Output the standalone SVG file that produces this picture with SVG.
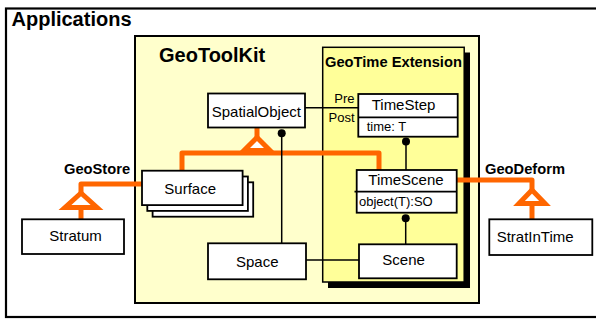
<svg xmlns="http://www.w3.org/2000/svg" width="596" height="320" viewBox="0 0 596 320">
<style>
.box{fill:#fff;stroke:#000;stroke-width:1.8}
.lbl{font-family:"Liberation Sans",Arial,sans-serif;font-size:15px;fill:#000}
.sm{font-family:"Liberation Sans",Arial,sans-serif;font-size:13px;fill:#000}
.ttl{font-family:"Liberation Sans",Arial,sans-serif;font-weight:bold;fill:#000}
.gen{fill:none;stroke:#ff6600;stroke-width:5;stroke-linejoin:round}
.tri{fill:#fff;stroke:#ff6600;stroke-width:5;stroke-linejoin:miter}
.assoc{fill:none;stroke:#000;stroke-width:1.5}
.dot{fill:#000}
</style>
<rect width="596" height="320" fill="#fff"/>
<g id="applications">
<rect x="6" y="8.5" width="600" height="308.5" fill="#fff" stroke="#000" stroke-width="2.2"/>
<text class="ttl" x="11.5" y="26" font-size="20">Applications</text>
</g>
<g id="geotoolkit">
<rect x="135" y="36" width="344" height="267" fill="#ffffcc" stroke="#000" stroke-width="2"/>
<text class="ttl" x="159" y="62" font-size="20">GeoToolKit</text>
</g>
<g id="geotime-extension">
<rect x="328" y="52.5" width="142" height="235.5" fill="#000"/>
<rect x="322.7" y="47.3" width="141.5" height="234.7" fill="#ffff99" stroke="#000" stroke-width="1.5"/>
<text class="ttl" x="325" y="66.7" font-size="14.7">GeoTime Extension</text>
</g>
<g id="connectors">
<path class="gen" d="M182,170 V153 H379 V170"/>
<path class="gen" d="M257,127.5 V138"/>
<polygon class="tri" points="257,137.5 244,150.5 270,150.5"/>
<path class="gen" d="M142,184 H81 V193"/>
<path class="gen" d="M81,207.5 V219.5"/>
<polygon class="tri" points="81,193 65,207.5 97,207.5"/>
<path class="gen" d="M457,180 H532 V190"/>
<path class="gen" d="M532,203.5 V219.5"/>
<polygon class="tri" points="532,190 519,203.5 545,203.5"/>
<path class="assoc" d="M305,107.7 H358.3"/>
<path class="assoc" d="M281.7,133.3 V243.3"/>
<circle class="dot" cx="281.7" cy="133.3" r="4"/>
<path class="assoc" d="M306,260 H359"/>
<path class="assoc" d="M406,141.5 V170"/>
<circle class="dot" cx="406" cy="141.5" r="4"/>
<path class="assoc" d="M405.7,218.3 V244.3"/>
<circle class="dot" cx="405.7" cy="218.3" r="4"/>
<text class="sm" x="354.5" y="103.3" text-anchor="end">Pre</text>
<text class="sm" x="354.5" y="121.7" text-anchor="end">Post</text>
<text class="ttl" x="64" y="174" font-size="14.7">GeoStore</text>
<text class="ttl" x="485" y="174" font-size="14.7">GeoDeform</text>
</g>
<g id="spatialobject">
<rect class="box" x="208" y="93.5" width="97" height="34"/>
<text class="lbl" x="211.7" y="117">SpatialObject</text>
</g>
<g id="timestep">
<rect class="box" x="358.3" y="94" width="99.4" height="42.7"/>
<line x1="358.3" y1="117.3" x2="457.7" y2="117.3" stroke="#000" stroke-width="1.8"/>
<text class="lbl" x="371.7" y="110">TimeStep</text>
<text class="sm" x="366.7" y="131">time: T</text>
</g>
<g id="surface">
<rect class="box" x="152.6" y="182.3" width="100.6" height="34.4"/>
<rect class="box" x="147.3" y="176.5" width="100.6" height="34.4"/>
<rect class="box" x="142" y="170.7" width="100.6" height="34.4"/>
<text class="lbl" x="164.3" y="194">Surface</text>
</g>
<g id="timescene">
<rect class="box" x="356.7" y="170" width="100" height="42.7"/>
<line x1="354.5" y1="191.7" x2="456.7" y2="191.7" stroke="#000" stroke-width="1.8"/>
<text class="lbl" x="368.3" y="185">TimeScene</text>
<text class="sm" x="359" y="206">object(T):SO</text>
</g>
<g id="space">
<rect class="box" x="208" y="243.3" width="98" height="36"/>
<text class="lbl" x="236" y="267.3">Space</text>
</g>
<g id="scene">
<rect class="box" x="359" y="244.3" width="97.7" height="34"/>
<text class="lbl" x="382.3" y="265">Scene</text>
</g>
<g id="stratum">
<rect class="box" x="22" y="219.3" width="102" height="34.7"/>
<text class="lbl" x="49.3" y="240.7">Stratum</text>
</g>
<g id="stratintime">
<rect class="box" x="489.3" y="219.3" width="103" height="35.7"/>
<text class="lbl" x="496.7" y="241.7">StratInTime</text>
</g>
</svg>
